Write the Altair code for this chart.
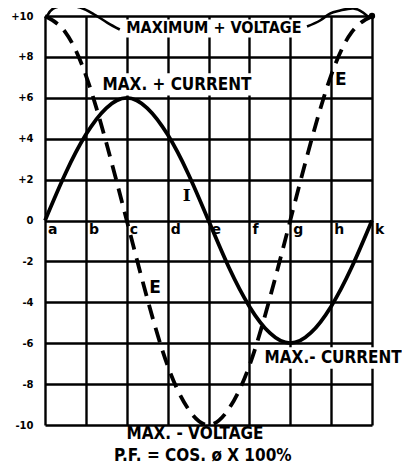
import altair as alt
import pandas as pd

# ---- data ----
x_pos = [0, 0.5, 1, 1.5, 2, 2.5, 3, 3.5, 4, 4.5, 5, 5.5, 6, 6.5, 7, 7.5, 8]
current = [0, 2.3, 4.2, 5.5, 6, 5.5, 4.2, 2.3, 0, -2.3, -4.2, -5.5, -6, -5.5, -4.2, -2.3, 0]
voltage = [10, 9.2, 7.1, 3.8, 0, -3.8, -7.1, -9.2, -10, -9.2, -7.1, -3.8, 0, 3.8, 7.1, 9.2, 10]

letters = ["a", "b", "c", "d", "e", "f", "g", "h", "k"]
letter_x = [0, 1, 2, 3, 4, 5, 6, 7, 8]
y_ticks = [-10, -8, -6, -4, -2, 0, 2, 4, 6, 8, 10]

# leader arcs to "MAXIMUM + VOLTAGE"
arc1_x = [0.05, 0.2, 0.54, 0.86, 1.17, 1.52, 1.83]
arc1_y = [10.0, 10.36, 10.51, 10.41, 10.12, 9.68, 9.34]
arc2_x = [6.41, 6.73, 6.97, 7.22, 7.54, 7.78, 7.95]
arc2_y = [9.49, 9.78, 10.12, 10.27, 10.37, 10.17, 9.88]

label_text = ["MAXIMUM + VOLTAGE", "MAX. + CURRENT", "MAX.- CURRENT",
              "MAX. - VOLTAGE", "P.F. = COS. ø X 100%"]
label_x = [4.13, 3.23, 7.05, 3.67, 3.86]
label_y = [9.42, 6.62, -6.72, -10.42, -11.5]
label_size = [16, 17, 17, 17, 17]

box_x = [1.98, 1.3, 5.28]
box_x2 = [6.29, 5.16, 8.85]
box_y = [8.95, 6.11, -6.2]
box_y2 = [9.83, 7.2, -7.25]

i_text = ["I"]
i_x = [3.47]
i_y = [1.22]
e_text = ["E", "E"]
e_x = [7.24, 2.69]
e_y = [6.85, -3.28]

FONT = "Liberation Sans Narrow, DejaVu Sans Condensed, Liberation Sans"

curves = pd.DataFrame({"x": x_pos, "I": current, "E": voltage})
arcs = pd.DataFrame({
    "x": arc1_x + arc2_x,
    "y": arc1_y + arc2_y,
    "arc": ["l"] * len(arc1_x) + ["r"] * len(arc2_x),
    "i": list(range(len(arc1_x))) + list(range(len(arc2_x))),
})
dot = pd.DataFrame({"x": [8], "y": [10]})
labels = pd.DataFrame({"t": label_text, "x": label_x, "y": label_y, "s": label_size})
boxes = pd.DataFrame({"x": box_x, "x2": box_x2, "y": box_y, "y2": box_y2})
isym = pd.DataFrame({"t": i_text, "x": i_x, "y": i_y})
esym = pd.DataFrame({"t": e_text, "x": e_x, "y": e_y})
lets = pd.DataFrame({"t": letters, "x": letter_x, "y": [0] * len(letters)})

xs = alt.Scale(domain=[0, 8], nice=False, zero=False)
ys = alt.Scale(domain=[-10, 10], nice=False, zero=False)

xaxis = alt.Axis(values=letter_x, grid=True, gridColor="black", gridWidth=2.4,
                 gridOpacity=1, labels=False, ticks=False, domain=False, title=None)
yaxis = alt.Axis(values=y_ticks, grid=True, gridColor="black", gridWidth=2.4,
                 gridOpacity=1, ticks=False, domain=False, title=None,
                 labelExpr="datum.value > 0 ? '+' + datum.value : '' + datum.value",
                 labelFont="DejaVu Sans", labelFontWeight="bold", labelFontSize=10,
                 labelColor="black", labelPadding=12)

base_boxes = alt.Chart(boxes).mark_rect(fill="white").encode(
    x=alt.X("x:Q", scale=xs, axis=xaxis),
    x2="x2:Q",
    y=alt.Y("y:Q", scale=ys, axis=yaxis),
    y2="y2:Q",
)

cur_line = alt.Chart(curves).mark_line(
    color="black", strokeWidth=3.8, interpolate="natural"
).encode(x=alt.X("x:Q", scale=xs), y=alt.Y("I:Q", scale=ys))

volt_line = alt.Chart(curves).mark_line(
    color="black", strokeWidth=3.8, interpolate="natural", strokeDash=[15, 9]
).encode(x=alt.X("x:Q", scale=xs), y=alt.Y("E:Q", scale=ys))

arc_lines = alt.Chart(arcs).mark_line(
    color="black", strokeWidth=2.6, interpolate="natural", clip=False
).encode(x=alt.X("x:Q", scale=xs), y=alt.Y("y:Q", scale=ys),
         detail="arc:N", order="i:Q")

dot_mark = alt.Chart(dot).mark_circle(color="black", opacity=1, size=40).encode(
    x=alt.X("x:Q", scale=xs), y=alt.Y("y:Q", scale=ys))

label_marks = alt.Chart(labels).mark_text(
    font=FONT, fontWeight="bold", color="black"
).encode(x=alt.X("x:Q", scale=xs), y=alt.Y("y:Q", scale=ys), text="t:N",
         size=alt.Size("s:Q", scale=None, legend=None))

i_marks = alt.Chart(isym).mark_text(
    font="DejaVu Serif", fontWeight="bold", fontSize=17, color="black"
).encode(x=alt.X("x:Q", scale=xs), y=alt.Y("y:Q", scale=ys), text="t:N")

e_marks = alt.Chart(esym).mark_text(
    font="DejaVu Sans", fontWeight="bold", fontSize=17, color="black"
).encode(x=alt.X("x:Q", scale=xs), y=alt.Y("y:Q", scale=ys), text="t:N")

letter_marks = alt.Chart(lets).mark_text(
    font="DejaVu Sans", fontWeight="bold", fontSize=14, color="black",
    align="left", baseline="top", dx=3, dy=2
).encode(x=alt.X("x:Q", scale=xs), y=alt.Y("y:Q", scale=ys), text="t:N")

chart = alt.layer(
    base_boxes, cur_line, volt_line, arc_lines, dot_mark,
    label_marks, i_marks, e_marks, letter_marks
).properties(
    width=327, height=409,
    autosize=alt.AutoSizeParams(type="none"),
    padding={"left": 37, "top": 8, "right": 30, "bottom": 44},
    background="white",
).configure_view(stroke=None)

chart.save("out.html", embed_options={"renderer": "svg", "actions": False})
